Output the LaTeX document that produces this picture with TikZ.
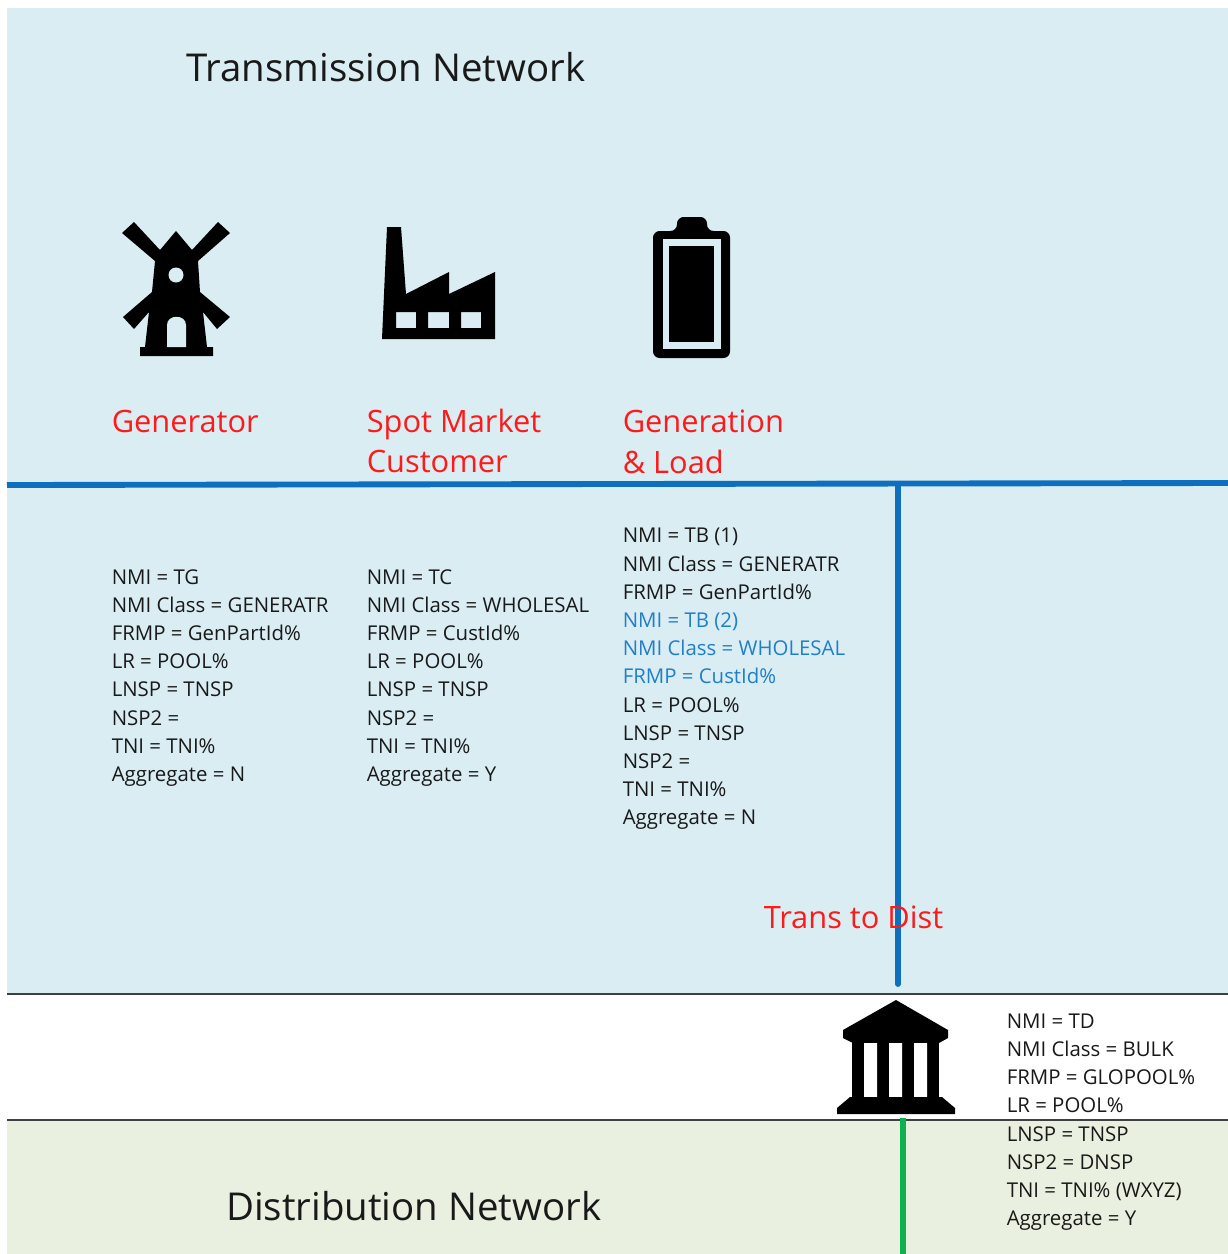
\documentclass[tikz,border=0pt]{standalone}
\usepackage{fontspec}
\setmainfont{Open Sans}
\definecolor{bluebg}{HTML}{DAEDF3}
\definecolor{greenbg}{HTML}{EAF0DF}
\definecolor{wire}{HTML}{0F6FBF}
\definecolor{gwire}{HTML}{0FB050}
\definecolor{nmiblue}{HTML}{1F7FC8}
\definecolor{lbl}{HTML}{FF1A1A}
\tikzset{
 x=0.75pt,y=-0.75pt,
 title/.style={anchor=base west,inner sep=0,font=\fontsize{28.8}{35}\selectfont,text=black!90},
 role/.style={anchor=north west,inner sep=0,align=left,font=\fontsize{23.1}{30.6}\selectfont,text=lbl},
 info/.style={anchor=north west,inner sep=0,align=left,font=\fontsize{15.3}{21.15}\selectfont,text=black!90},
 wireb/.style={wire,line width=4.4pt},
 wireg/.style={gwire,line width=4.4pt},
 border/.style={black!75,line width=1.1pt},
}
\begin{document}
\begin{tikzpicture}
\useasboundingbox (0,0) rectangle (1228,1254);
\fill[white] (0,0) rectangle (1228,1254);
\fill[bluebg] (7,8) rectangle (1228,994);
\fill[greenbg] (7,1120) rectangle (1228,1254);
\coordinate (tl) at (7,994); \coordinate (tr) at (1228,994);
\coordinate (bl) at (7,1120); \coordinate (br) at (1228,1120);
\draw[border] (tl) -- (tr);
\draw[border] (bl) -- (br);
\coordinate (busl) at (7,485); \coordinate (busr) at (1228,483);
\coordinate (vt) at (898,484); \coordinate (vb) at (898,984);
\coordinate (gt) at (903,1118); \coordinate (gb) at (903,1254);
\draw[wireb] (busl) -- (busr);
\draw[wireb,line cap=round] (vt) -- (vb);
\draw[wireg] (gt) -- (gb);

\node[title] (tn) at (186,81) {Transmission Network};
\node[title] (dn) at (226,1220) {Distribution Network};

\node[role] (r1) at (111.5,409.5) {Generator};
\node[role] (r2) at (366.5,408.5) {Spot Market\\Customer};
\node[role] (r3) at (622.5,409.5) {Generation\\\& Load};
\node[role,anchor=base west] (r4) at (763.5,928) {Trans to Dist};

\node[info] (i1) at (111.5,569) {NMI = TG\\NMI Class = GENERATR\\FRMP = GenPartId\%\\LR = POOL\%\\LNSP = TNSP\\NSP2 =\\TNI = TNI\%\\Aggregate = N};
\node[info] (i2) at (366.5,569) {NMI = TC\\NMI Class = WHOLESAL\\FRMP = CustId\%\\LR = POOL\%\\LNSP = TNSP\\NSP2 =\\TNI = TNI\%\\Aggregate = Y};
\node[info] (i3) at (622.5,528) {NMI = TB (1)\\NMI Class = GENERATR\\FRMP = GenPartId\%\\\textcolor{nmiblue}{NMI = TB (2)}\\\textcolor{nmiblue}{NMI Class = WHOLESAL}\\\textcolor{nmiblue}{FRMP = CustId\%}\\LR = POOL\%\\LNSP = TNSP\\NSP2 =\\TNI = TNI\%\\Aggregate = N};
\node[info] (i4) at (1006.5,1013.5) {NMI = TD\\NMI Class = BULK\\FRMP = GLOPOOL\%\\LR = POOL\%\\LNSP = TNSP\\NSP2 = DNSP\\TNI = TNI\% (WXYZ)\\Aggregate = Y};

% windmill
\fill[black] (122,233) -- (134,222) -- (160,250) -- (176,231) -- (192,250) -- (218,222) -- (230,233) -- (198,261) -- (200,292) -- (230,317) -- (217,329) -- (203,312) -- (207,347) -- (213,347) -- (213,356) -- (140,356) -- (140,347) -- (145,347) -- (149,312) -- (134,329) -- (123,317) -- (152,292) -- (155,261) -- cycle;
\fill[bluebg] (176,275) circle (7.5);
\fill[bluebg] (167,347) -- (167,325) .. controls (167,314) and (186,314) .. (186,325) -- (186,347) -- cycle;
% factory
\fill[black,even odd rule] (387,227) -- (401,227) -- (406,294) -- (449,272) -- (449,294) -- (495,272) -- (495,339) -- (382,339) -- cycle
 (396,312) rectangle (416,328) (428,312) rectangle (449,328) (461,312) rectangle (481,328);
% battery
\fill[black,rounded corners=5] (677,231) -- (677,217) -- (707,217) -- (707,231) -- (730,231) -- (730,358) -- (653,358) -- (653,231) -- cycle;
\fill[bluebg] (663,239) rectangle (721,349);
\fill[black] (669,246) rectangle (714,342);
% bank
\fill[black] (896,1000) -- (948,1030) -- (948,1038) -- (939,1043) -- (853,1043) -- (843,1038) -- (843,1030) -- cycle;
\fill[black] (852,1040) rectangle (939,1098);
\fill[white] (864,1043) rectangle (877,1097) (889,1043) rectangle (902,1097) (914,1043) rectangle (927,1097);
\fill[black] (850,1097) -- (942,1097) -- (955,1108) -- (955,1114) -- (837,1114) -- (837,1108) -- cycle;
\end{tikzpicture}
\end{document}
